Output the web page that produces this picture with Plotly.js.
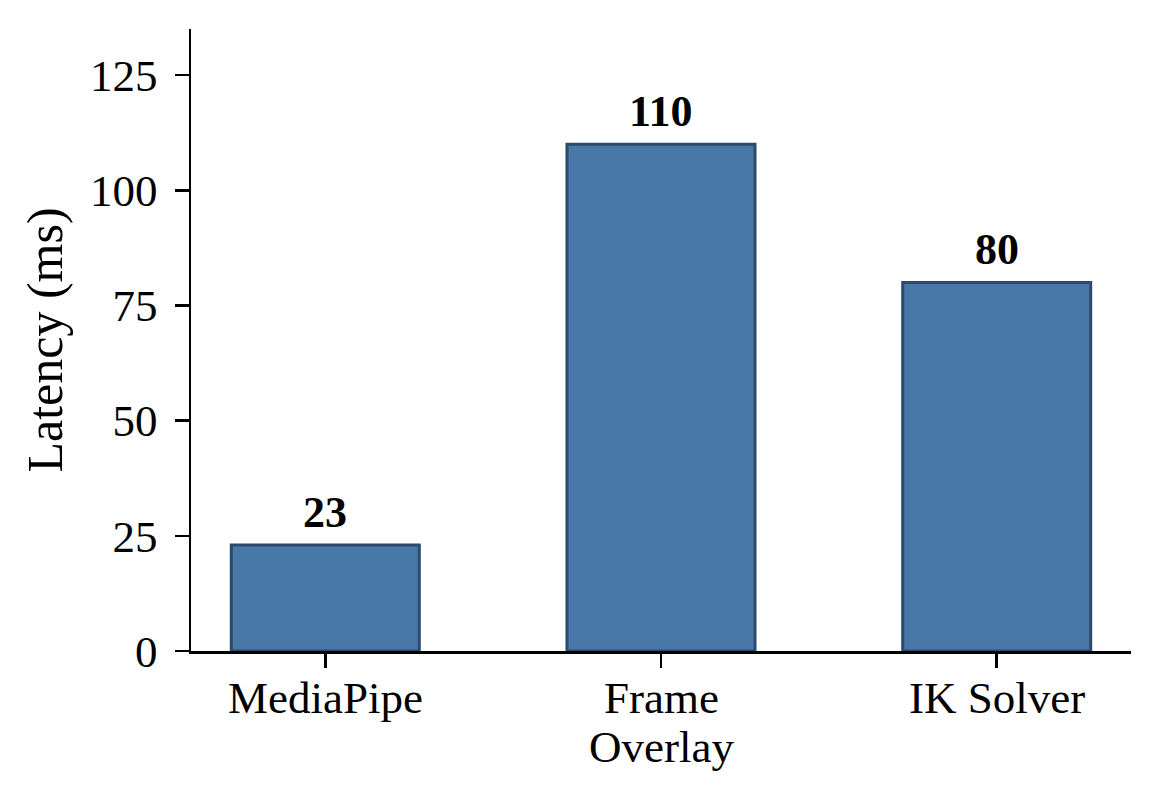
<!DOCTYPE html>
<html>
<head>
<meta charset="utf-8">
<script src="https://cdn.plot.ly/plotly-3.0.1.min.js"></script>
<style>
  html, body { margin: 0; padding: 0; background: #fff; }
  #myDiv { width: 1161px; height: 801px; }
</style>
</head>
<body>
<div id="myDiv"></div>
<script>
var stages = ['MediaPipe', 'Frame Overlay', 'IK Solver'];
var latency = [23, 110, 80];
var labels = ['23', '110', '80'];
// tick labels, split in two lines
var tickLine1 = ['MediaPipe', 'Frame', 'IK Solver'];
var tickLine2 = ['', 'Overlay', ''];

var font = 'Liberation Serif, Times New Roman, serif';

var trace = {
  x: stages,
  y: latency,
  type: 'bar',
  width: 0.56,
  marker: {color: '#4878a8', line: {color: '#2c4a6b', width: 3}},
  hoverinfo: 'none'
};

var notes = [];
stages.forEach(function (s, i) {
  notes.push({
    x: s, y: latency[i], text: '<b>' + labels[i] + '</b>',
    showarrow: false, yanchor: 'bottom', yshift: 6,
    font: {family: font, size: 44, color: '#000'}
  });
  notes.push({
    x: s, yref: 'paper', y: 0, text: tickLine1[i],
    showarrow: false, yanchor: 'top', yshift: -20,
    font: {family: font, size: 45, color: '#000'}
  });
  if (tickLine2[i]) {
    notes.push({
      x: s, yref: 'paper', y: 0, text: tickLine2[i],
      showarrow: false, yanchor: 'top', yshift: -69,
      font: {family: font, size: 45, color: '#000'}
    });
  }
});

var layout = {
  width: 1161,
  height: 801,
  margin: {l: 191, r: 30, t: 29, b: 150},
  paper_bgcolor: '#fff',
  plot_bgcolor: '#fff',
  font: {family: font, color: '#000'},
  showlegend: false,
  xaxis: {
    range: [-0.4, 2.4],
    showline: true, linecolor: '#000', linewidth: 2.5,
    ticks: 'outside', ticklen: 14, tickwidth: 2.5, tickcolor: '#000',
    showgrid: false, zeroline: false,
    showticklabels: false
  },
  yaxis: {
    range: [0, 135],
    dtick: 25,
    showline: true, linecolor: '#000', linewidth: 2.5,
    ticks: 'outside', ticklen: 14, tickwidth: 2.5, tickcolor: '#000',
    showgrid: false, zeroline: false,
    tickfont: {family: font, size: 45},
    ticklabelstandoff: 8,
    title: {text: 'Latency (ms)', font: {family: font, size: 50}, standoff: 12}
  },
  annotations: notes
};

Plotly.newPlot('myDiv', [trace], layout, {displayModeBar: false, staticPlot: true});
</script>
</body>
</html>
